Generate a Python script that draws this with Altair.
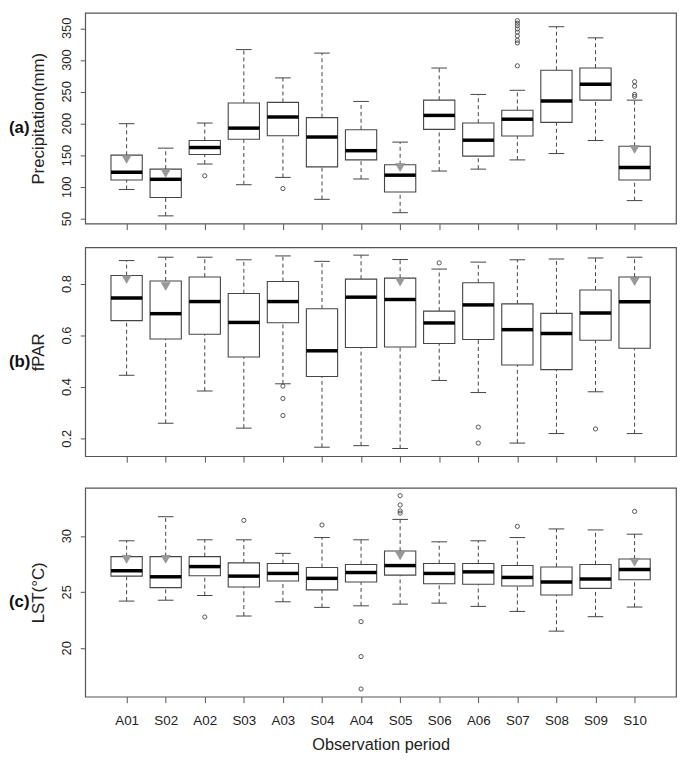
import altair as alt
import pandas as pd

cats = ["A01", "S02", "A02", "S03", "A03", "S04", "A04", "S05", "S06", "A06", "S07", "S08", "S09", "S10"]

# (a) Precipitation (mm)
lo_a = [96.5, 55, 136.5, 104, 115.5, 81, 113, 60, 125.5, 128.5, 143, 153, 173.5, 79]
q1_a = [111.5, 84, 151.5, 175.5, 181, 132, 143, 92.5, 191, 149, 180.5, 202, 237, 111.5]
med_a = [123.5, 112.5, 162.5, 193, 210.5, 179, 157.5, 119, 213, 174, 207, 235.5, 262, 131]
q3_a = [150.5, 128.5, 173.5, 232.5, 233.5, 209.5, 190.5, 135.5, 237, 201, 221, 284, 287.5, 164.5]
hi_a = [200, 161.5, 201, 316.5, 272, 311, 235, 171, 287.5, 246, 252.5, 352.5, 335, 237]
out_a = {"A02": [118], "A03": [98],
         "S07": [291, 327, 331, 338, 344, 349, 354, 358, 362],
         "S10": [243, 246, 259, 266]}
tri_a = {"A01": 144, "S02": 122, "S05": 131, "S10": 159.5}
ticks_a = [50, 100, 150, 200, 250, 300, 350]
tlab_a = ["50", "100", "150", "200", "250", "300", "350"]

# (b) fPAR
lo_b = [0.446, 0.260, 0.385, 0.241, 0.413, 0.167, 0.173, 0.162, 0.426, 0.379, 0.183, 0.220, 0.382, 0.220]
q1_b = [0.658, 0.587, 0.605, 0.517, 0.650, 0.441, 0.554, 0.556, 0.569, 0.585, 0.486, 0.468, 0.582, 0.551]
med_b = [0.746, 0.685, 0.732, 0.651, 0.732, 0.541, 0.749, 0.740, 0.649, 0.719, 0.623, 0.608, 0.688, 0.731]
q3_b = [0.833, 0.812, 0.827, 0.763, 0.810, 0.704, 0.819, 0.823, 0.695, 0.805, 0.723, 0.686, 0.777, 0.827]
hi_b = [0.891, 0.904, 0.904, 0.894, 0.909, 0.888, 0.912, 0.895, 0.858, 0.885, 0.894, 0.897, 0.901, 0.904]
out_b = {"A03": [0.404, 0.356, 0.290], "S06": [0.882], "A06": [0.245, 0.183], "S09": [0.238]}
tri_b = {"A01": 0.818, "S02": 0.791, "S05": 0.808, "S10": 0.81}
ticks_b = [0.2, 0.4, 0.6, 0.8]
tlab_b = ["0.2", "0.4", "0.6", "0.8"]

# (c) LST (°C)
lo_c = [24.21, 24.29, 24.71, 22.88, 24.15, 23.65, 23.79, 23.94, 24.03, 23.74, 23.29, 21.53, 22.82, 23.68]
q1_c = [26.44, 25.41, 26.47, 25.47, 26.0, 25.21, 25.91, 26.53, 25.76, 25.71, 25.56, 24.76, 25.35, 26.12]
med_c = [26.91, 26.38, 27.29, 26.44, 26.68, 26.24, 26.76, 27.38, 26.68, 26.82, 26.32, 25.91, 26.18, 27.03]
q3_c = [28.18, 28.18, 28.18, 27.62, 27.56, 27.21, 27.47, 28.68, 27.56, 27.56, 27.38, 27.26, 27.47, 27.97]
hi_c = [29.59, 31.74, 29.68, 29.68, 28.47, 29.88, 29.68, 31.5, 29.5, 29.59, 29.88, 30.65, 30.56, 30.18]
out_c = {"A02": [22.79], "S03": [31.41], "S04": [31.0], "A04": [22.38, 19.26, 16.37],
         "S05": [32.06, 32.26, 32.79, 33.62], "S07": [30.88], "S10": [32.21]}
tri_c = {"A01": 27.94, "S02": 27.94, "S05": 28.26, "S10": 27.68}
ticks_c = [20, 25, 30]
tlab_c = ["20", "25", "30"]

FONT = "Liberation Sans"
W = 597
n = len(cats)
x_pad = 0.04 * n
x_domain = [0.5 - x_pad, n + 0.5 + x_pad]
label_expr = "[" + ",".join("'%s'" % c for c in cats) + "][datum.value - 1]"
LINE = "#444444"


def r_domain(vals):
    lo, hi = min(vals), max(vals)
    pad = 0.04 * (hi - lo)
    return [lo - pad, hi + pad]


def make_panel(lo, q1, med, q3, hi, outl, tri, ytitle, tag, ticks, tlabs,
               height, bottom, x_extent):
    idx = list(range(1, n + 1))
    boxes = pd.DataFrame({"idx": idx, "cat": cats, "lo": lo, "q1": q1,
                          "med": med, "q3": q3, "hi": hi})
    outs = pd.DataFrame([(cats.index(c) + 1, v) for c, vs in outl.items() for v in vs],
                        columns=["idx", "v"])
    tris = pd.DataFrame([(cats.index(c) + 1, v) for c, v in tri.items()],
                        columns=["idx", "v"])
    tick_df = pd.DataFrame({"v": ticks, "lab": tlabs})
    ydom = r_domain(list(lo) + list(hi) + outs["v"].tolist())

    xscale = alt.Scale(domain=x_domain, nice=False, zero=False)
    yscale = alt.Scale(domain=ydom, nice=False, zero=False)

    xkw = dict(values=idx, labelExpr=label_expr, labels=bottom, ticks=True,
               tickSize=6, tickColor="#555555", tickWidth=1, domain=False,
               grid=False, labelAngle=0, labelFont=FONT, labelFontSize=13.5,
               labelColor="#222222", labelBaseline="middle", labelPadding=18)
    if bottom:
        xkw.update(title="Observation period", titleFont=FONT, titleFontSize=16.5,
                   titleFontWeight="normal", titleColor="#222222",
                   titleY=48, titleBaseline="middle")
    else:
        xkw.update(title=None, minExtent=x_extent)
    xaxis = alt.Axis(**xkw)

    yaxis = alt.Axis(values=ticks, labels=False, tickSize=5,
                     tickColor="#555555", domain=False, grid=False,
                     title=ytitle, titleFont=FONT, titleFontSize=17,
                     titleFontWeight="normal", titleColor="#222222",
                     titleAngle=270, titleX=-47, titleBaseline="middle")

    def X(f):
        return alt.X(f, type="quantitative", scale=xscale, axis=xaxis)

    def Y(f):
        return alt.Y(f, type="quantitative", scale=yscale, axis=yaxis)

    base = alt.Chart(boxes).transform_calculate(
        bl="datum.idx - 0.4", br="datum.idx + 0.4",
        sl="datum.idx - 0.2", sr="datum.idx + 0.2")

    dash = dict(color=LINE, strokeDash=[4, 3], strokeWidth=1)
    w_lo = base.mark_rule(**dash).encode(x=X("idx"), y=Y("lo"), y2="q1")
    w_hi = base.mark_rule(**dash).encode(x=X("idx"), y=Y("q3"), y2="hi")
    s_lo = base.mark_rule(color=LINE, strokeWidth=1).encode(x=X("sl"), x2="sr", y=Y("lo"))
    s_hi = base.mark_rule(color=LINE, strokeWidth=1).encode(x=X("sl"), x2="sr", y=Y("hi"))
    box = base.mark_rect(fill="white", stroke=LINE, strokeWidth=1.1).encode(
        x=X("bl"), x2="br", y=Y("q1"), y2="q3")
    medl = base.mark_rule(color="black", strokeWidth=3.5, strokeCap="butt").encode(
        x=X("bl"), x2="br", y=Y("med"))
    pts = alt.Chart(outs).mark_point(shape="circle", filled=False, size=18,
                                     strokeWidth=0.9, color=LINE, opacity=1).encode(
        x=X("idx"), y=Y("v"))
    trs = alt.Chart(tris).mark_point(shape="triangle-down", filled=True, size=85,
                                     color="#999999", opacity=1, stroke="#808080",
                                     strokeWidth=0.5).encode(x=X("idx"), y=Y("v"))
    ylabs = alt.Chart(tick_df).mark_text(
        angle=270, align="center", baseline="bottom", font=FONT, fontSize=13,
        color="#222222").encode(x=alt.value(-11), y=Y("v"), text="lab:N")
    txt = alt.Chart(pd.DataFrame({"t": [tag]})).mark_text(
        align="left", baseline="middle", font=FONT, fontSize=17,
        fontWeight="bold", color="#111111").encode(
        x=alt.value(-77), y=alt.value(height / 2 + 10), text="t:N")

    return alt.layer(w_lo, w_hi, s_lo, s_hi, box, medl, pts, trs, ylabs, txt).properties(
        width=W, height=height)


pa = make_panel(lo_a, q1_a, med_a, q3_a, hi_a, out_a, tri_a, "Precipitation(mm)", "(a)",
                ticks_a, tlab_a, 213, False, 22)
pb = make_panel(lo_b, q1_b, med_b, q3_b, hi_b, out_b, tri_b, "fPAR", "(b)",
                ticks_b, tlab_b, 211, False, 30)
pc = make_panel(lo_c, q1_c, med_c, q3_c, hi_c, out_c, tri_c, "LST(°C)", "(c)",
                ticks_c, tlab_c, 211, True, 0)

chart = alt.vconcat(pa, pb, pc, spacing=0).properties(
    padding={"left": 0, "top": 0, "right": 0, "bottom": 0}
).configure_view(
    stroke="#555555", strokeWidth=1.2
)

chart.save("out.html", embed_options={"renderer": "svg", "actions": False})
